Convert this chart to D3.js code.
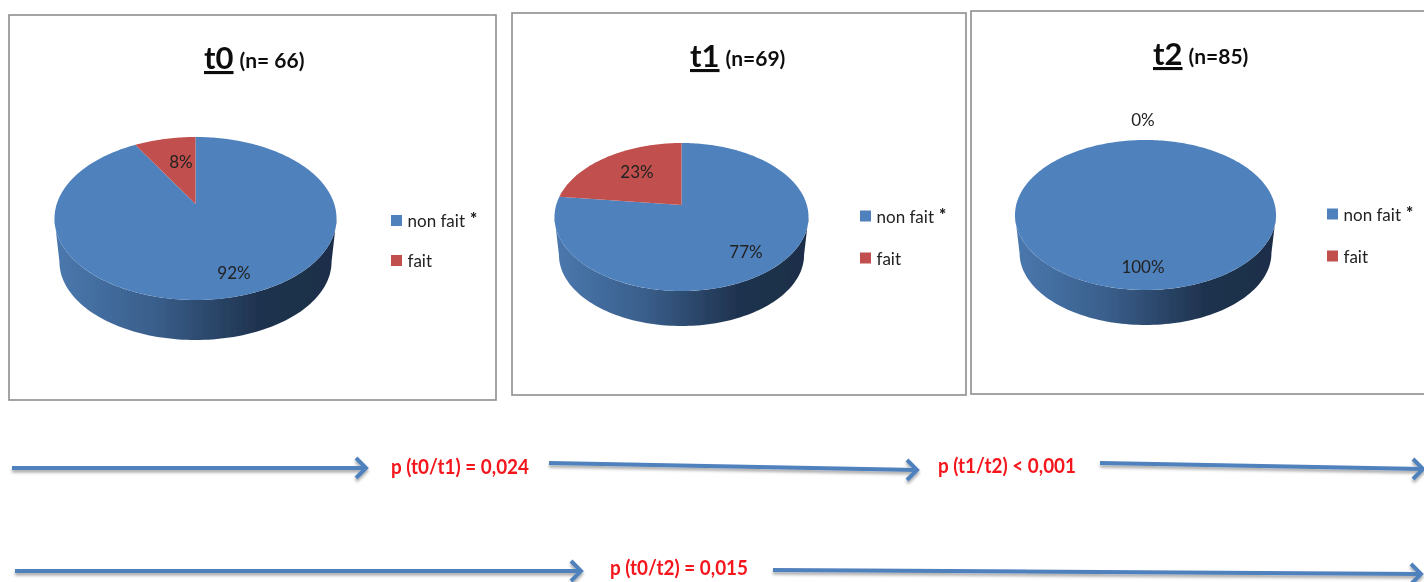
<!DOCTYPE html>
<html>
<head>
<meta charset="utf-8">
<script src="https://cdn.jsdelivr.net/npm/d3@7/dist/d3.min.js"></script>
<style>
  html, body { margin: 0; padding: 0; background: #fff; }
  svg { display: block; }
  text { font-family: Lato, "Open Sans", sans-serif; }
</style>
</head>
<body>
<div id="chart"></div>
<script>
// data
var categories = ["non fait", "fait"];
var periods = ["t0", "t1", "t2"];
var sampleLabels = ["(n= 66)", "(n=69)", "(n=85)"];
var t0Values = [92, 8];
var t1Values = [77, 23];
var t2Values = [100, 0];
var pValues = ["p (t0/t1) = 0,024", "p (t1/t2) < 0,001", "p (t0/t2) = 0,015"];

var allValues = [t0Values, t1Values, t2Values];

// layout of the three boxes (pixels)
var panels = [
  {box: [9, 15, 487, 385], cx: 195.5, cy: 218.5, rx: 141, ry: 81.5, depth: 40, apexY: 204, titleX: 204, titleY: 69,
   legendX: 391, legendY: 215, legendStep: 40, labels: [[234, 273], [181, 162]]},
  {box: [512, 13, 454, 382], cx: 681.5, cy: 217, rx: 127, ry: 74, depth: 35, apexY: 205, titleX: 690, titleY: 67,
   legendX: 860, legendY: 210.5, legendStep: 42, labels: [[746, 252], [637, 172]]},
  {box: [971, 11, 470, 383], cx: 1145.5, cy: 215, rx: 130.5, ry: 75, depth: 35, apexY: 204, titleX: 1153, titleY: 65,
   legendX: 1327, legendY: 208.5, legendStep: 42, labels: [[1143, 267], [1143, 120]]}
];

var width = 1424, height = 582;

var svg = d3.select("#chart").append("svg")
    .attr("width", width)
    .attr("height", height);

var defs = svg.append("defs");

// scan is a bit soft, keep it soft here too
defs.append("filter").attr("id", "soft")
    .append("feGaussianBlur").attr("stdDeviation", 0.5);

var shadow = defs.append("filter").attr("id", "arrowShadow")
    .attr("x", "-5%").attr("y", "-200%").attr("width", "110%").attr("height", "500%");
shadow.append("feDropShadow")
    .attr("dx", 0).attr("dy", 2.5).attr("stdDeviation", 1.6)
    .attr("flood-color", "#000").attr("flood-opacity", 0.35);

var sideGrad = defs.append("linearGradient").attr("id", "sideGrad");
sideGrad.append("stop").attr("offset", "0%").attr("stop-color", "#4a78ae");
sideGrad.append("stop").attr("offset", "35%").attr("stop-color", "#3a5f8c");
sideGrad.append("stop").attr("offset", "72%").attr("stop-color", "#1f334f");
sideGrad.append("stop").attr("offset", "100%").attr("stop-color", "#1c2e47");

var color = d3.scaleOrdinal().domain(categories).range(["#4f81bd", "#c0504d"]);

var pie = d3.pie().sort(null).value(function(d) { return d.value; });
var line = d3.line();

var root = svg.append("g").attr("filter", "url(#soft)");

// point where the ray from the apex at this pie angle meets the top ellipse
function rimPoint(p, a) {
  var dx = Math.sin(a), dy = -Math.cos(a) * 0.54;
  var ox = 0, oy = p.apexY - p.cy;
  var A = dx * dx / (p.rx * p.rx) + dy * dy / (p.ry * p.ry);
  var B = 2 * (ox * dx / (p.rx * p.rx) + oy * dy / (p.ry * p.ry));
  var C = ox * ox / (p.rx * p.rx) + oy * oy / (p.ry * p.ry) - 1;
  var s = (-B + Math.sqrt(B * B - 4 * A * C)) / (2 * A);
  return [p.cx + s * dx, p.apexY + s * dy];
}

function slicePath(p, d) {
  var pts = [];
  var n = Math.max(2, Math.ceil((d.endAngle - d.startAngle) / 0.02));
  for (var i = 0; i <= n; i++) {
    pts.push(rimPoint(p, d.startAngle + (d.endAngle - d.startAngle) * i / n));
  }
  if (d.endAngle - d.startAngle < 2 * Math.PI - 0.001) pts.push([p.cx, p.apexY]);
  return line(pts) + "Z";
}

function sidePath(p) {
  var pts = [], i, t;
  for (i = 0; i <= 100; i++) {
    t = Math.PI * i / 100;
    pts.push([p.cx + p.rx * Math.cos(t), p.cy + p.ry * Math.sin(t)]);
  }
  // bottom edge is a little narrower, perspective of the 3D pie
  for (i = 100; i >= 0; i--) {
    t = Math.PI * i / 100;
    pts.push([p.cx + p.rx * 0.965 * Math.cos(t), p.cy + p.depth + p.ry * 0.96 * Math.sin(t) + p.ry * 0.04]);
  }
  return line(pts) + "Z";
}

panels.forEach(function(p, idx) {
  var data = categories.map(function(c, i) { return {name: c, value: allValues[idx][i]}; });
  var g = root.append("g").attr("class", "panel");

  g.append("rect")
      .attr("x", p.box[0]).attr("y", p.box[1])
      .attr("width", p.box[2]).attr("height", p.box[3])
      .attr("fill", "#fff")
      .attr("stroke", "#8e8e8e")
      .attr("stroke-width", 1.6);

  // title
  var title = g.append("text")
      .attr("x", p.titleX).attr("y", p.titleY)
      .attr("fill", "#111")
      .attr("font-weight", 700);
  title.append("tspan").attr("font-size", 31).attr("text-decoration", "underline").text(periods[idx]);
  title.append("tspan").attr("font-size", 21).attr("dx", 6).attr("dy", -1).text(sampleLabels[idx]);

  // pie
  g.append("path").attr("d", sidePath(p)).attr("fill", "url(#sideGrad)");
  g.selectAll("path.slice")
      .data(pie(data))
      .enter().append("path")
      .attr("class", "slice")
      .attr("d", function(d) { return slicePath(p, d); })
      .attr("fill", function(d) { return color(d.data.name); });

  // percent labels
  g.selectAll("text.pct")
      .data(data)
      .enter().append("text")
      .attr("class", "pct")
      .attr("x", function(d, i) { return p.labels[i][0]; })
      .attr("y", function(d, i) { return p.labels[i][1] + 6; })
      .attr("text-anchor", "middle")
      .attr("font-size", 17)
      .attr("fill", "#222")
      .text(function(d) { return d.value + "%"; });

  // legend
  var legend = g.selectAll("g.legend")
      .data(categories)
      .enter().append("g")
      .attr("class", "legend")
      .attr("transform", function(d, i) { return "translate(" + p.legendX + "," + (p.legendY + i * p.legendStep) + ")"; });
  legend.append("rect")
      .attr("width", 11).attr("height", 11)
      .attr("fill", function(d) { return color(d); });
  var legendText = legend.append("text")
      .attr("x", 16.5).attr("y", 12)
      .attr("font-size", 17)
      .attr("fill", "#222")
      .text(function(d) { return d; });
  legendText.filter(function(d, i) { return i === 0; })
      .append("tspan").attr("dx", 5).attr("dy", -2).attr("font-weight", 900).text("*");
});

// arrows along the bottom
var arrows = [
  [[12, 468], [366, 468]],
  [[549, 463], [917, 470]],
  [[1100, 463], [1423, 469]],
  [[15, 571], [581, 571]],
  [[773, 570], [1421, 574]]
];
var arrowG = root.append("g").attr("filter", "url(#arrowShadow)");
arrows.forEach(function(a) {
  arrowG.append("path")
      .attr("d", line(a))
      .attr("fill", "none")
      .attr("stroke", "#4f81bd")
      .attr("stroke-width", 4);
  var tip = a[1];
  arrowG.append("path")
      .attr("d", line([[tip[0] - 10, tip[1] - 10], tip, [tip[0] - 10, tip[1] + 10]]))
      .attr("fill", "none")
      .attr("stroke", "#4f81bd")
      .attr("stroke-width", 4);
});

var pPositions = [[460, 474], [1007, 473], [679, 575]];
root.selectAll("text.pval")
    .data(pValues)
    .enter().append("text")
    .attr("class", "pval")
    .attr("x", function(d, i) { return pPositions[i][0]; })
    .attr("y", function(d, i) { return pPositions[i][1]; })
    .attr("text-anchor", "middle")
    .attr("font-size", 20)
    .attr("font-weight", 700)
    .attr("fill", "#f5141c")
    .attr("textLength", 138)
    .attr("lengthAdjust", "spacingAndGlyphs")
    .text(function(d) { return d; });
</script>
</body>
</html>
